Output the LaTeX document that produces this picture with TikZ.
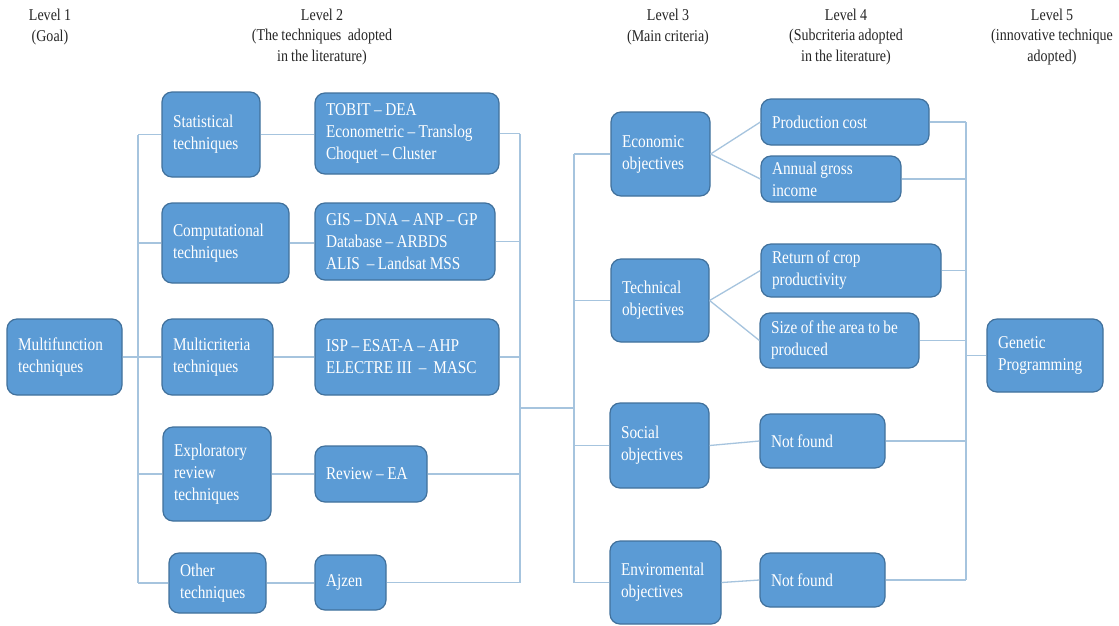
\documentclass[tikz,border=0pt]{standalone}
\usepackage{fontspec}
\setmainfont{Liberation Serif}[FakeStretch=0.85, WordSpace=0.9]
\hyphenpenalty=10000
\exhyphenpenalty=10000
\definecolor{boxfill}{HTML}{5B9BD5}
\definecolor{boxline}{HTML}{41719C}
\definecolor{linkcol}{HTML}{A6C4DE}
\begin{document}
\begin{tikzpicture}[x=1pt,y=-1pt,
  box/.style={draw=boxline, fill=boxfill, line width=1.2pt, rounded corners=10pt,
    text=white, align=left, inner xsep=11pt, inner ysep=2pt,
    font=\fontsize{18}{22}\selectfont,
    execute at begin node={\spaceskip=0pt\xspaceskip=0pt\relax}},
  link/.style={draw=linkcol, line width=1.3pt},
  lvl/.style={align=center, inner sep=0pt, font=\fontsize{16.5}{20.5}\selectfont, text=black!85}]

% canvas
\fill[white] (0,0) rectangle (1119,625);
\useasboundingbox (0,0) rectangle (1119,625);

% level headings
\node[lvl] (L1) at (50,27)    {Level 1\\(Goal)};
\node[lvl] (L2) at (322,37)   {Level 2\\(The techniques \ adopted\\in the literature)};
\node[lvl] (L3) at (668,27)   {Level 3\\(Main criteria)};
\node[lvl] (L4) at (846,37)   {Level 4\\(Subcriteria adopted\\in the literature)};
\node[lvl] (L5) at (1052,37)  {Level 5\\(innovative technique\\adopted)};

% level 1
\node[box, minimum width=115, minimum height=76, text width=93] (mf) at (64.5,357) {Multifunction\\techniques};

% level 2: technique families
\node[box, minimum width=98,  minimum height=85, text width=76]  (st) at (211,134.5) {Statistical\\techniques};
\node[box, minimum width=127, minimum height=80, text width=105] (co) at (225.5,243) {Computational\\techniques};
\node[box, minimum width=111, minimum height=76, text width=89]  (mc) at (217.5,357) {Multicriteria\\techniques};
\node[box, minimum width=108, minimum height=94, text width=86]  (ex) at (217,474)   {Exploratory\\review\\techniques};
\node[box, minimum width=97,  minimum height=60, text width=75]  (ot) at (217.5,583) {Other\\techniques};

% level 2: methods
\node[box, minimum width=184, minimum height=81, text width=162] (to) at (407,133.5) {TOBIT – DEA\\Econometric – Translog\\Choquet – Cluster};
\node[box, minimum width=180, minimum height=77, text width=158] (gi) at (405,241.5) {GIS – DNA – ANP – GP\\Database – ARBDS\\ALIS \ – Landsat MSS};
\node[box, minimum width=184, minimum height=76, text width=162] (is) at (407,357)   {ISP – ESAT-A – AHP\\ELECTRE III \ – \ MASC};
\node[box, minimum width=112, minimum height=56, text width=90]  (re) at (371,474)   {Review – EA};
\node[box, minimum width=71,  minimum height=55, text width=49]  (aj) at (350.5,582.5) {Ajzen};

% level 3: main criteria
\node[box, minimum width=99,  minimum height=84, text width=77] (ec) at (660.5,154)   {Economic\\objectives};
\node[box, minimum width=98,  minimum height=83, text width=76] (te) at (660,300.5)   {Technical\\objectives};
\node[box, minimum width=99,  minimum height=85, text width=77] (so) at (659.5,445.5) {Social\\objectives};
\node[box, minimum width=111, minimum height=83, text width=89] (en) at (665.5,582.5) {Enviromental\\objectives};

% level 4: subcriteria
\node[box, minimum width=168, minimum height=46, text width=146] (pc)  at (845,122)     {Production cost};
\node[box, minimum width=140, minimum height=46, text width=118] (ag)  at (831,179)     {Annual gross\\income};
\node[box, minimum width=180, minimum height=53, text width=158] (rc)  at (851,270.5)   {Return of crop\\productivity};
\node[box, minimum width=159, minimum height=55, text width=137] (sz)  at (839.5,340.5) {Size of the area to be\\produced};
\node[box, minimum width=125, minimum height=54, text width=103] (nf1) at (822.5,441)   {Not found};
\node[box, minimum width=125, minimum height=54, text width=103] (nf2) at (822.5,580)   {Not found};

% level 5
\node[box, minimum width=116, minimum height=73, text width=94] (gp) at (1045,355.5) {Genetic\\Programming};

% bus lines
\coordinate (busA) at (138,0);
\coordinate (busB) at (520,0);
\coordinate (busC) at (574,0);
\coordinate (busD) at (966,0);
\coordinate (bridge) at (520,408);

% level 1 -> level 2
\draw[link] (st.west -| busA) -- (ot.west -| busA);
\draw[link] (mf.east) -- (mf.east -| busA);
\foreach \n in {st,co,mc,ex,ot} \draw[link] (\n.west) -- (\n.west -| busA);

% families -> methods
\foreach \a/\b in {st/to,co/gi,mc/is,ex/re,ot/aj} \draw[link] (\a.east) -- (\a.east -| \b.west);

% methods -> main criteria
\draw[link] (to.east -| busB) -- (aj.east -| busB);
\foreach \n in {to,gi,is,re,aj} \draw[link] (\n.east) -- (\n.east -| busB);
\draw[link] (bridge) -- (bridge -| busC);
\draw[link] (ec.west -| busC) -- (en.west -| busC);
\foreach \n in {ec,te,so,en} \draw[link] (\n.west) -- (\n.west -| busC);

% main criteria -> subcriteria
\draw[link] (ec.east) -- (pc.west);
\draw[link] (ec.east) -- (ag.west);
\draw[link] (te.east) -- (rc.west);
\draw[link] (te.east) -- (sz.west);
\draw[link] (so.east) -- (nf1.west);
\draw[link] (en.east) -- (nf2.west);

% subcriteria -> genetic programming
\draw[link] (pc.east -| busD) -- (nf2.east -| busD);
\foreach \n in {pc,ag,rc,sz,nf1,nf2} \draw[link] (\n.east) -- (\n.east -| busD);
\draw[link] (gp.west -| busD) -- (gp.west);

\end{tikzpicture}
\end{document}
